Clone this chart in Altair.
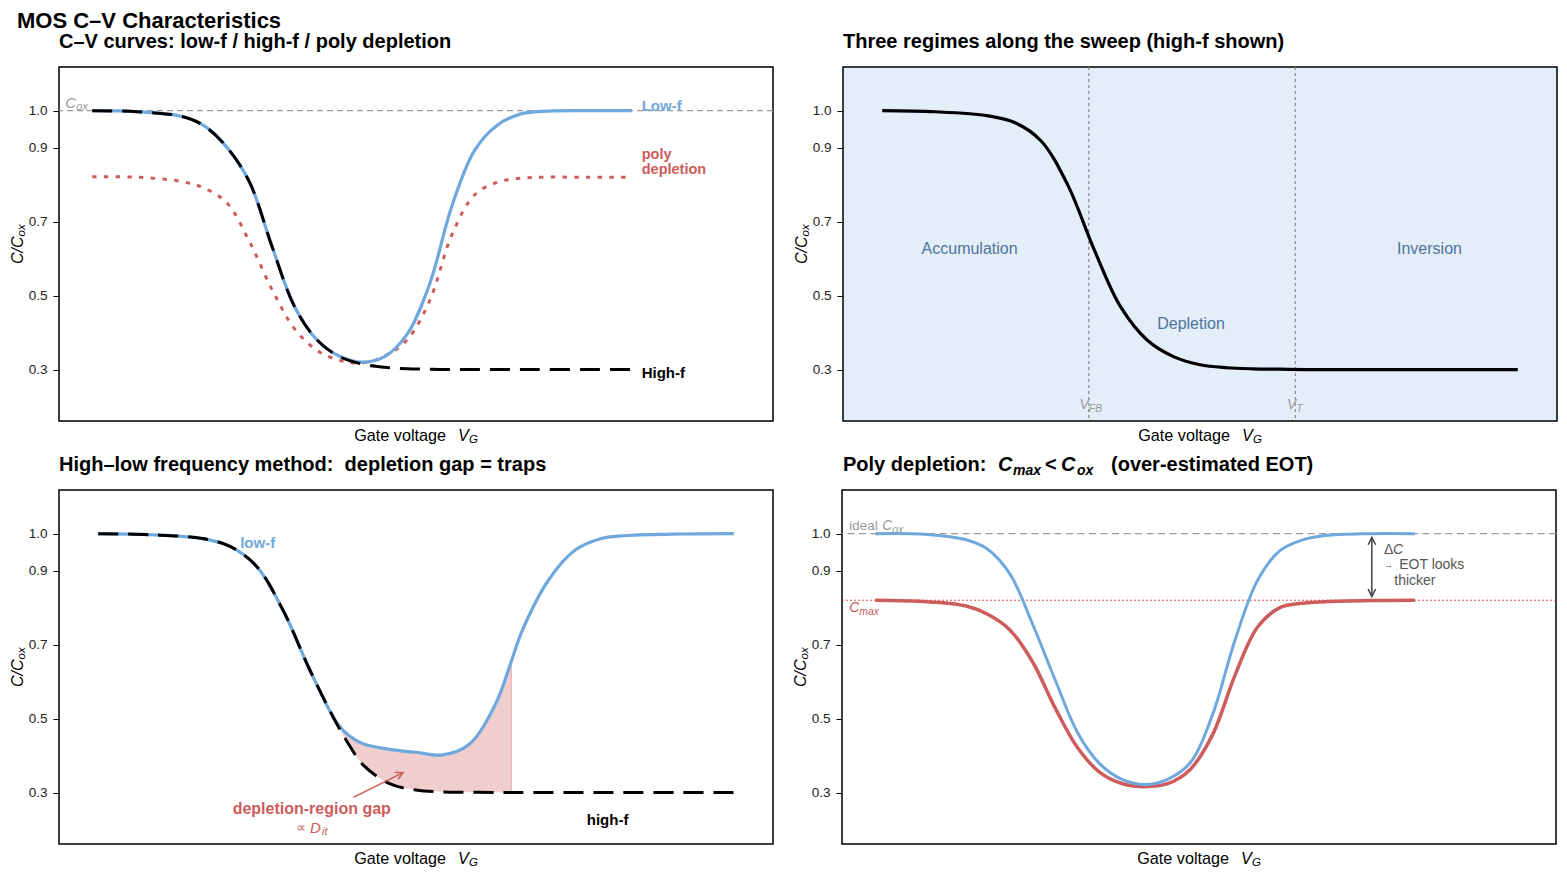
import altair as alt
import pandas as pd

FONT = "Liberation Sans"
BLUE = "#6fa8dc"
RED = "#cd5c5c"
GRAY = "#9a9a9a"
BG = "#e3eef8"
REGION = "#4f74a0"
DARK = "#555555"

W, H = 714, 354
YDOM = [0.161, 1.118]
XDOM_WIDE = [-3.37, 4.57]
XDOM_SYM = [-3.37, 3.37]
YTICKS = [0.3, 0.5, 0.7, 0.9, 1.0]
INTERP = "catmull-rom"

# ---------------- data ----------------
# Panel 1: C-V curves
P1_V = [-3.0, -2.5, -2.0, -1.75, -1.5, -1.25, -1.0, -0.75, -0.5, -0.25, 0.0,
        0.25, 0.5, 0.75, 1.0, 1.25, 1.5, 1.75, 2.0, 2.5, 3.0]
P1_LOWF = [1.0, 0.997, 0.984, 0.958, 0.9, 0.806, 0.632, 0.47, 0.38, 0.336, 0.32,
           0.335, 0.395, 0.53, 0.743, 0.892, 0.96, 0.99, 0.998, 1.0, 1.0]
P1_HIGHF = [1.0, 0.997, 0.984, 0.958, 0.9, 0.806, 0.632, 0.47, 0.38, 0.335, 0.315,
            0.306, 0.302, 0.301, 0.3, 0.3, 0.3, 0.3, 0.3, 0.3, 0.3]
P1_POLY = [0.821, 0.82, 0.808, 0.79, 0.75, 0.645, 0.516, 0.41, 0.352, 0.325, 0.318,
           0.336, 0.38, 0.485, 0.665, 0.772, 0.806, 0.817, 0.82, 0.82, 0.82]

# Panel 2: regimes (high-f)
P2_V = [-3.0, -2.5, -2.0, -1.75, -1.5, -1.25, -1.0, -0.75, -0.5, -0.25, 0.0,
        0.25, 0.5, 0.75, 1.0, 1.5, 2.0, 2.5, 3.0]
P2_HIGHF = [1.0, 0.997, 0.986, 0.968, 0.918, 0.8, 0.625, 0.47, 0.38, 0.335, 0.313,
            0.305, 0.302, 0.301, 0.3, 0.3, 0.3, 0.3, 0.3]
P2_MARKERS = [-1.05, 0.9]

# Panel 3: high-low frequency method
P3_V = [-3.0, -2.5, -2.0, -1.75, -1.5, -1.25, -1.0, -0.75, -0.625, -0.5, -0.25, 0.0,
        0.25, 0.5, 0.75, 0.9, 1.0, 1.25, 1.5, 1.75, 2.0, 2.5, 3.0]
P3_LOWF = [1.0, 0.997, 0.986, 0.965, 0.91, 0.79, 0.63, 0.49, 0.452, 0.432, 0.417, 0.409,
           0.402, 0.43, 0.539, 0.655, 0.736, 0.874, 0.955, 0.987, 0.995, 0.999, 1.0]
P3_HIGHF = [1.0, 0.997, 0.986, 0.965, 0.91, 0.79, 0.63, 0.487, 0.426, 0.375, 0.324, 0.307,
            0.302, 0.301, 0.3, 0.3, 0.3, 0.3, 0.3, 0.3, 0.3, 0.3, 0.3]
P3_GAP_END = 0.9

# Panel 4: poly depletion
P4_V = P1_V
P4_IDEAL = [1.0, 0.999, 0.984, 0.958, 0.89, 0.755, 0.605, 0.462, 0.377, 0.335, 0.322,
            0.336, 0.38, 0.51, 0.712, 0.873, 0.954, 0.983, 0.995, 1.0, 1.0]
P4_POLY = [0.82, 0.817, 0.805, 0.782, 0.739, 0.653, 0.529, 0.421, 0.354, 0.324, 0.316,
           0.324, 0.362, 0.456, 0.617, 0.747, 0.8, 0.812, 0.816, 0.819, 0.82]
COX = 1.0
CMAX = 0.82


# ---------------- helpers ----------------
def encs(xdom):
    X = alt.X("V:Q", scale=alt.Scale(domain=xdom, nice=False, zero=False), axis=None)
    Y = alt.Y("C:Q", scale=alt.Scale(domain=YDOM, nice=False, zero=False),
              axis=alt.Axis(values=YTICKS, format=".1f", title=None))
    return X, Y


def line(xdom, v, c, **kw):
    X, Y = encs(xdom)
    df = pd.DataFrame({"V": v, "C": c})
    return alt.Chart(df).mark_line(interpolate=INTERP, **kw).encode(x=X, y=Y)


def hrule(xdom, c, **kw):
    X, Y = encs(xdom)
    return alt.Chart(pd.DataFrame({"C": [c]})).mark_rule(**kw).encode(y=Y)


def txt(xdom, v, c, s, size=14, color="black", bold=False, italic=False,
        align="left", baseline="middle", dx=0, dy=0):
    X, Y = encs(xdom)
    kw = dict(font=FONT, fontSize=size, color=color, align=align,
              baseline=baseline, dx=dx, dy=dy)
    if bold:
        kw["fontWeight"] = "bold"
    if italic:
        kw["fontStyle"] = "italic"
    df = pd.DataFrame({"V": [v], "C": [c], "t": [s]})
    return alt.Chart(df).mark_text(**kw).encode(x=X, y=Y, text="t:N")


def ptxt(px, py, s, size=16, italic=False, bold=False, align="left", baseline="middle",
         dx=0, dy=0, angle=0, color="black"):
    kw = dict(font=FONT, fontSize=size, color=color, align=align,
              baseline=baseline, dx=dx, dy=dy, angle=angle)
    if italic:
        kw["fontStyle"] = "italic"
    if bold:
        kw["fontWeight"] = "bold"
    return alt.Chart(pd.DataFrame({"t": [s]})).mark_text(**kw).encode(
        x=alt.value(px), y=alt.value(py), text="t:N")


def axis_titles():
    return [
        ptxt(W / 2 + 30, H + 15, "Gate voltage", size=16.2, align="right"),
        ptxt(W / 2 + 42, H + 15, "V", size=16.2, italic=True),
        ptxt(W / 2 + 53, H + 15, "G", size=11.5, italic=True, dy=4),
        ptxt(-36.5, H / 2 + 20, "C/C", size=16, italic=True, angle=270, baseline="alphabetic"),
        ptxt(-36.5, H / 2 + 20, "ox", size=11.5, italic=True, angle=270,
             baseline="alphabetic", dx=27.5, dy=2),
    ]


TITLE_Y = -19


def ptitle(s):
    return ptxt(0, TITLE_Y, s, size=20, bold=True, baseline="alphabetic")


def main_title(visible=True):
    return ptxt(-42, -39.5, "MOS C\u2013V Characteristics" if visible else ".", size=22,
                bold=True, baseline="alphabetic", color="black" if visible else "white")


def arrowhead(xdom, v, c, angle, color, size=220):
    X, Y = encs(xdom)
    df = pd.DataFrame({"V": [v], "C": [c]})
    return alt.Chart(df).mark_point(
        shape="M-0.5,1L0,0L0.5,1", filled=False, size=size, strokeWidth=1.5,
        color=color, opacity=1, angle=angle).encode(x=X, y=Y)


# ---------------- panel 1 ----------------
xd = XDOM_WIDE
p1 = alt.layer(
    hrule(xd, COX, color=GRAY, strokeDash=[6, 4], strokeWidth=1.3),
    line(xd, P1_V, P1_POLY, color=RED, strokeWidth=3, strokeDash=[4.4, 7.3]),
    line(xd, P1_V, P1_LOWF, color=BLUE, strokeWidth=3.2),
    line(xd, P1_V, P1_HIGHF, color="black", strokeWidth=3, strokeDash=[20, 10]),
    txt(xd, -3.30, 1.021, "C", size=15, color=GRAY, italic=True),
    txt(xd, -3.30, 1.021, "ox", size=11, color=GRAY, italic=True, dx=11, dy=4),
    txt(xd, 3.11, 1.013, "Low-f", size=15, color=BLUE, bold=True),
    txt(xd, 3.11, 0.879, "poly", size=14.5, color=RED, bold=True),
    txt(xd, 3.11, 0.839, "depletion", size=14.5, color=RED, bold=True),
    txt(xd, 3.11, 0.292, "High-f", size=15, color="black", bold=True),
    *axis_titles(),
    ptitle("C\u2013V curves: low-f / high-f / poly depletion"),
    main_title(True),
).properties(width=W, height=H)

# ---------------- panel 2 ----------------
xd = XDOM_SYM
X2, Y2 = encs(xd)
p2 = alt.layer(
    alt.Chart(pd.DataFrame({"V": P2_MARKERS})).mark_rule(
        color="#888888", strokeDash=[3, 3], strokeWidth=1.2).encode(x=X2),
    line(xd, P2_V, P2_HIGHF, color="black", strokeWidth=3.2),
    txt(xd, -2.175, 0.625, "Accumulation", size=16, color=REGION, align="center"),
    txt(xd, -0.085, 0.424, "Depletion", size=16, color=REGION, align="center"),
    txt(xd, 2.166, 0.625, "Inversion", size=16, color=REGION, align="center"),
    txt(xd, P2_MARKERS[0], 0.204, "V", size=14, color=GRAY, italic=True, align="right"),
    txt(xd, P2_MARKERS[0], 0.204, "FB", size=10.5, color=GRAY, italic=True, dy=4),
    txt(xd, P2_MARKERS[1], 0.204, "V", size=14, color=GRAY, italic=True, align="right", dx=1),
    txt(xd, P2_MARKERS[1], 0.204, "T", size=10.5, color=GRAY, italic=True, dx=1, dy=4),
    *axis_titles(),
    ptitle("Three regimes along the sweep (high-f shown)"),
    main_title(False),
).properties(width=W, height=H,
             view=alt.ViewBackground(fill=BG, stroke="black", strokeWidth=1.5))

# ---------------- panel 3 ----------------
xd = XDOM_SYM
X3, Y3 = encs(xd)
gap = pd.DataFrame({"V": P3_V, "C": P3_LOWF, "C2": P3_HIGHF})
gap = gap[(gap.V >= -1.0) & (gap.V <= P3_GAP_END)]
p3 = alt.layer(
    alt.Chart(gap).mark_area(interpolate=INTERP, color=RED, opacity=0.3).encode(
        x=X3, y=Y3, y2="C2:Q"),
    alt.Chart(pd.DataFrame({"V": [P3_GAP_END], "C": [0.3], "C2": [0.655]})).mark_rule(
        color=RED, opacity=0.35, strokeWidth=1.2).encode(x=X3, y=Y3, y2="C2:Q"),
    line(xd, P3_V, P3_LOWF, color=BLUE, strokeWidth=3.2),
    line(xd, P3_V, P3_HIGHF, color="black", strokeWidth=3, strokeDash=[20, 10]),
    alt.Chart(pd.DataFrame({"V": [-0.591], "C": [0.287], "V2": [-0.122], "C2": [0.354]})).mark_rule(
        color=RED, strokeWidth=1.5).encode(x=X3, y=Y3, x2="V2:Q", y2="C2:Q"),
    arrowhead(xd, -0.122, 0.354, 63.4, RED),
    txt(xd, -1.66, 0.976, "low-f", size=15, color=BLUE, bold=True),
    txt(xd, -0.984, 0.255, "depletion-region gap", size=16, color=RED, bold=True, align="center"),
    txt(xd, -1.04, 0.204, "\u221d", size=14, color=RED, align="right"),
    txt(xd, -1.0, 0.204, "D", size=15, color=RED, italic=True),
    txt(xd, -1.0, 0.204, "it", size=11, color=RED, italic=True, dx=12, dy=4),
    txt(xd, 1.612, 0.225, "high-f", size=15, color="black", bold=True),
    *axis_titles(),
    ptitle("High\u2013low frequency method:\u00a0 depletion gap = traps"),
).properties(width=W, height=H)

# ---------------- panel 4 ----------------
xd = XDOM_WIDE
X4, Y4 = encs(xd)
p4 = alt.layer(
    hrule(xd, COX, color=GRAY, strokeDash=[7, 4.5], strokeWidth=1.3),
    hrule(xd, CMAX, color="#e05050", strokeDash=[2, 2], strokeWidth=1),
    line(xd, P4_V, P4_POLY, color=RED, strokeWidth=3.5),
    line(xd, P4_V, P4_IDEAL, color=BLUE, strokeWidth=3),
    alt.Chart(pd.DataFrame({"V": [2.522], "C": [0.99], "C2": [0.83]})).mark_rule(
        color="#444444", strokeWidth=1.5).encode(x=X4, y=Y4, y2="C2:Q"),
    arrowhead(xd, 2.522, 0.99, 0, "#444444"),
    arrowhead(xd, 2.522, 0.83, 180, "#444444"),
    txt(xd, -3.29, 1.021, "ideal", size=13.5, color=GRAY),
    txt(xd, -3.29, 1.021, "C", size=14, color=GRAY, italic=True, dx=33),
    txt(xd, -3.29, 1.021, "ox", size=10.5, color=GRAY, italic=True, dx=43, dy=4),
    txt(xd, -3.29, 0.799, "C", size=14, color=RED, italic=True),
    txt(xd, -3.29, 0.799, "max", size=10.5, color=RED, italic=True, dx=10, dy=4),
    txt(xd, 2.656, 0.957, "\u0394", size=14, color=DARK),
    txt(xd, 2.656, 0.957, "C", size=14, color=DARK, italic=True, dx=9),
    txt(xd, 2.66, 0.914, "\u2192", size=9, color=DARK),
    txt(xd, 2.66, 0.914, "EOT looks", size=14, color=DARK, dx=15),
    txt(xd, 2.66, 0.871, "thicker", size=14, color=DARK, dx=10),
    *axis_titles(),
    ptxt(1, TITLE_Y, "Poly depletion:", size=20, bold=True, baseline="alphabetic"),
    ptxt(156, TITLE_Y, "C", size=20, bold=True, italic=True, baseline="alphabetic"),
    ptxt(171, TITLE_Y, "max", size=14, bold=True, italic=True, baseline="alphabetic", dy=4),
    ptxt(203, TITLE_Y, "<", size=20, bold=True, baseline="alphabetic"),
    ptxt(219, TITLE_Y, "C", size=20, bold=True, italic=True, baseline="alphabetic"),
    ptxt(235, TITLE_Y, "ox", size=14, bold=True, italic=True, baseline="alphabetic", dy=4),
    ptxt(269, TITLE_Y, "(over-estimated EOT)", size=20, bold=True, baseline="alphabetic"),
).properties(width=W, height=H)

row1 = alt.hconcat(p1, p2, spacing=17)
row2 = alt.hconcat(p3, p4, spacing=17)
chart = alt.vconcat(row1, row2, spacing=7).properties(
    padding={"top": 0, "left": 0, "right": 0, "bottom": -1}
).configure_view(
    stroke="black", strokeWidth=1.5
).configure_axis(
    labelFont=FONT, labelFontSize=13.5, labelColor="#222222", tickColor="black",
    tickSize=6, labelPadding=6, domain=False, grid=False,
)

chart.save("out.html", embed_options={"renderer": "svg", "actions": False})
